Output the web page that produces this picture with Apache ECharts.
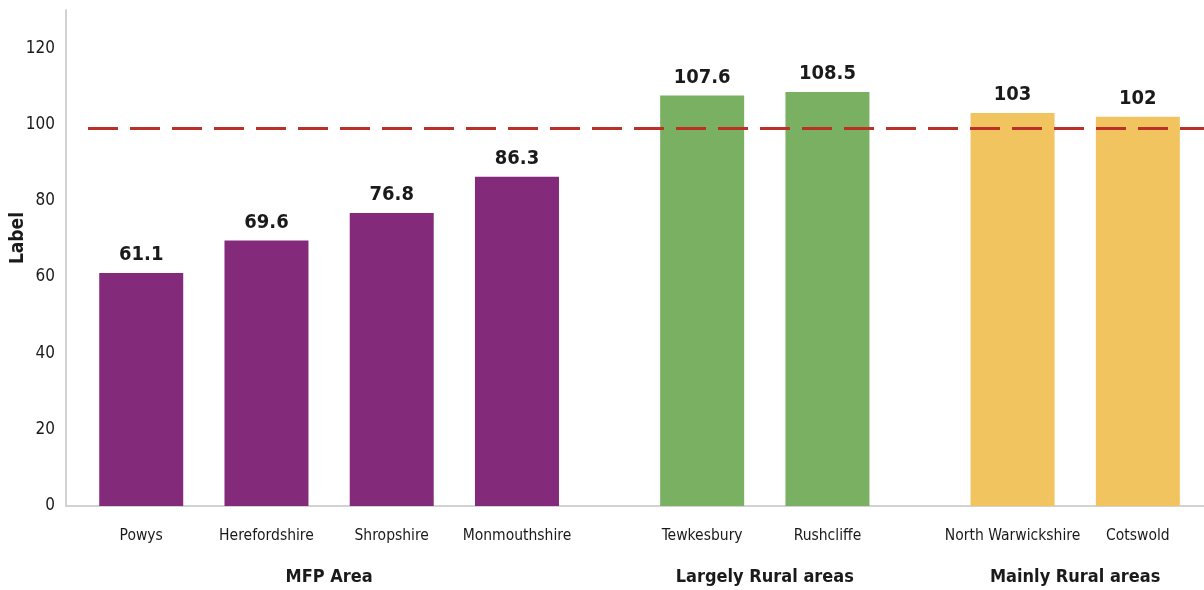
<!DOCTYPE html>
<html>
<head>
<meta charset="utf-8">
<script src="https://cdn.jsdelivr.net/npm/echarts@6/dist/echarts.min.js"></script>
<style>
  html, body { margin: 0; padding: 0; background: #ffffff; }
  #chart { width: 1204px; height: 590px; }
</style>
</head>
<body>
<div id="chart"></div>
<script>
// Values per area group
const mfpAreas = ['Powys', 'Herefordshire', 'Shropshire', 'Monmouthshire'];
const mfpValues = [61.1, 69.6, 76.8, 86.3];
const largelyRuralAreas = ['Tewkesbury', 'Rushcliffe'];
const largelyRuralValues = [107.6, 108.5];
const mainlyRuralAreas = ['North Warwickshire', 'Cotswold'];
const mainlyRuralValues = [103, 102];
const groupNames = ['MFP Area', 'Largely Rural areas', 'Mainly Rural areas'];
const referenceValue = 99;
const yMin = 0;
const yMax = 130;
const yInterval = 20;
const yAxisName = 'Label';

const FONT = "'Liberation Sans Narrow', 'DejaVu Sans Condensed', 'Roboto Condensed', 'Liberation Sans', sans-serif";
const TEXT = '#1a1a1a';
const AXIS_GREY = '#d2d2d2';
const PLOT_TOP = 10;
const PLOT_BOTTOM = 84;

const groups = [
  { names: mfpAreas, values: mfpValues, color: '#832a7b', left: 78.6, width: 501 },
  { names: largelyRuralAreas, values: largelyRuralValues, color: '#7ab061', left: 639.5, width: 250.6 },
  { names: mainlyRuralAreas, values: mainlyRuralValues, color: '#f2c45f', left: 949.9, width: 250.6 }
];

const hiddenValueY = { type: 'value', min: yMin, max: yMax, interval: yInterval, show: false };
const gridBase = { top: PLOT_TOP, bottom: PLOT_BOTTOM, containLabel: false, outerBoundsMode: 'none' };

const grid = [
  // shared axes frame
  Object.assign({ left: 66, right: 0 }, gridBase),
  // reference line
  Object.assign({ left: 88, right: 0 }, gridBase)
];
const xAxis = [
  {
    gridIndex: 0, type: 'value', min: 0, max: 1,
    axisLine: { show: true, lineStyle: { color: AXIS_GREY, width: 2 } },
    axisTick: { show: false }, axisLabel: { show: false }, splitLine: { show: false }
  },
  { gridIndex: 1, type: 'value', min: 0, max: 1, show: false }
];
const yAxis = [
  {
    gridIndex: 0, type: 'value', min: yMin, max: yMax, interval: yInterval,
    axisLine: { show: true, lineStyle: { color: AXIS_GREY, width: 2 } },
    axisTick: { show: false },
    splitLine: { show: false },
    axisLabel: { showMaxLabel: false, fontFamily: FONT, fontSize: 17, color: TEXT, margin: 11 },
    name: yAxisName,
    nameLocation: 'middle',
    nameRotate: 90,
    nameGap: 38,
    nameMoveOverlap: false,
    nameTextStyle: { fontFamily: FONT, fontSize: 19, fontWeight: 'bold', color: TEXT, padding: [0, 0, 0, 40] }
  },
  Object.assign({ gridIndex: 1 }, hiddenValueY)
];
const series = [
  {
    type: 'line', xAxisIndex: 1, yAxisIndex: 1, data: [], z: 10,
    markLine: {
      silent: true,
      symbol: ['none', 'none'],
      label: { show: false },
      lineStyle: { color: '#bb3128', width: 3, type: [30, 12] },
      data: [{ yAxis: referenceValue }]
    }
  }
];

groups.forEach((g, i) => {
  const gi = i + 2;
  grid.push(Object.assign({ left: g.left, width: g.width }, gridBase));
  xAxis.push({
    gridIndex: gi, type: 'category', data: g.names,
    axisLine: { show: false }, axisTick: { show: false },
    axisLabel: { fontFamily: FONT, fontSize: 15.5, color: TEXT, margin: 22, interval: 0 },
    name: groupNames[i],
    nameLocation: 'middle',
    nameGap: 62,
    nameMoveOverlap: false,
    nameTextStyle: { fontFamily: FONT, fontSize: 18, fontWeight: 'bold', color: TEXT }
  });
  yAxis.push(Object.assign({ gridIndex: gi }, hiddenValueY));
  series.push({
    type: 'bar', xAxisIndex: gi, yAxisIndex: gi,
    data: g.values, barWidth: 84,
    itemStyle: { color: g.color },
    label: {
      show: true, position: 'top', distance: 8,
      fontFamily: FONT, fontSize: 20, fontWeight: 'bold', color: TEXT
    },
    z: 2
  });
});

const chart = echarts.init(document.getElementById('chart'), null, { renderer: 'canvas' });
chart.setOption({
  animation: false,
  backgroundColor: '#ffffff',
  grid, xAxis, yAxis, series
});
</script>
</body>
</html>
